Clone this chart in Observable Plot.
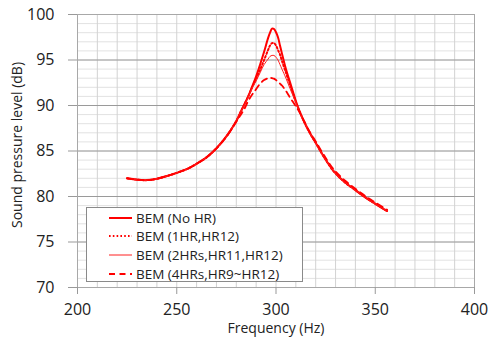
<!DOCTYPE html>
<html>
<head>
<meta charset="utf-8">
<script src="https://cdn.jsdelivr.net/npm/d3@7"></script>
<script src="https://cdn.jsdelivr.net/npm/@observablehq/plot@0.6"></script>
<style>
  html, body { margin: 0; padding: 0; background: #fff; }
  #wrap { position: relative; width: 497px; height: 343px; font-family: "Open Sans", sans-serif; }
  #legend { position: absolute; left: 86px; top: 207px; width: 217px; height: 75px; border: 1px solid #8a8a8a; background: #fff; box-sizing: border-box; }
  .row { position: absolute; left: 0; height: 19px; display: flex; align-items: center; font-size: 13.5px; color: #222; white-space: nowrap; }
  .row svg { margin-left: 22px; margin-right: 4px; }
</style>
</head>
<body>
<div id="wrap"><div id="legend"></div></div>
<script>
// Data
const freq = [225,230,235,240,245,250,255,260,265,270,275,280,282,284,286,288,290,292,294,296,297,298,299,300,301,302,303,305,307,310,312,314,317,320,324,329,335,340,345,350,356];
const noHR = [82.0,81.85,81.8,81.95,82.25,82.6,83.0,83.6,84.3,85.3,86.6,88.3,89.2,90.1,91.0,92.1,93.2,94.5,95.9,97.4,98.0,98.45,98.4,98.05,97.5,96.6,95.7,94.0,92.6,90.5,89.3,88.3,87.0,85.9,84.4,82.8,81.5,80.7,79.9,79.2,78.4];
const oneHR = [82.0,81.85,81.8,81.95,82.25,82.6,83.0,83.6,84.3,85.3,86.6,88.3,89.2,90.1,91.0,92.0,92.9,93.9,95.0,96.1,96.6,96.85,96.85,96.6,96.1,95.6,94.9,93.6,92.3,90.4,89.3,88.3,87.0,85.9,84.4,82.8,81.5,80.7,79.9,79.2,78.4];
const twoHRs = [82.0,81.85,81.8,81.95,82.25,82.6,83.0,83.6,84.3,85.3,86.6,88.3,89.2,90.0,90.9,91.9,92.7,93.6,94.5,95.1,95.4,95.5,95.5,95.3,95.0,94.5,94.0,93.0,91.9,90.3,89.2,88.3,87.0,85.9,84.4,82.8,81.5,80.7,79.9,79.2,78.4];
const fourHRs = [82.0,81.85,81.8,81.95,82.25,82.6,83.0,83.6,84.3,85.3,86.55,88.2,88.9,89.6,90.5,91.2,91.8,92.4,92.8,93.0,93.05,93.0,92.95,92.8,92.6,92.4,92.2,91.6,90.9,89.9,89.2,88.35,87.1,86.05,84.6,83.0,81.7,80.85,80.05,79.35,78.55];
const seriesNames = ["BEM (No HR)", "BEM (1HR,HR12)", "BEM (2HRs,HR11,HR12)", "BEM (4HRs,HR9~HR12)"];
const xTicks = [200, 250, 300, 350, 400];
const yTicks = [70, 75, 80, 85, 90, 95, 100];
const xLabel = "Frequency (Hz)";
const yLabel = "Sound pressure level (dB)";

const styles = [
  {stroke: "#ff0000", strokeWidth: 2},
  {stroke: "#ff0000", strokeWidth: 2, strokeDasharray: "1.6,2.2"},
  {stroke: "#ff2020", strokeWidth: 1},
  {stroke: "#ff0000", strokeWidth: 1.8, strokeDasharray: "6,4.5"}
];
const allValues = [noHR, oneHR, twoHRs, fourHRs];
const tables = allValues.map(vals => freq.map((f, i) => ({f, v: vals[i]})));

const chart = Plot.plot({
  width: 497, height: 343,
  marginLeft: 77, marginRight: 23, marginTop: 14, marginBottom: 56,
  x: {domain: [200, 400]},
  y: {domain: [70, 100]},
  style: {fontFamily: "'Open Sans', sans-serif", fontSize: "16px", color: "#222", background: "transparent"},
  marks: [
    Plot.ruleY(d3.range(70, 101, 1), {stroke: "#e2e2e2", strokeWidth: 1}),
    Plot.ruleX(d3.range(200, 401, 10), {stroke: "#d2d2d2", strokeWidth: 1}),
    Plot.ruleY(yTicks.slice(1, -1), {stroke: "#9a9a9a", strokeWidth: 1}),
    Plot.frame({stroke: "#a8a8a8"}),
    Plot.axisX({ticks: xTicks, tickSize: 7, tickPadding: 9, tickFormat: d => String(d), label: null, stroke: "#999", fill: "#222", fontSize: 16}),
    Plot.axisY({ticks: yTicks, tickSize: 9, tickPadding: 14, tickFormat: d => String(d), label: null, stroke: "#999", fill: "#222", fontSize: 16}),
    Plot.text([xLabel], {frameAnchor: "bottom", textAnchor: "middle", lineAnchor: "middle", dy: 41, fontSize: 14, fill: "#222"}),
    Plot.text([yLabel], {frameAnchor: "left", textAnchor: "middle", lineAnchor: "middle", dx: -60, dy: -6, rotate: -90, fontSize: 14, fill: "#222"}),
    ...tables.map((t, i) => Plot.line(t, {x: "f", y: "v", curve: "catmull-rom", ...styles[i]}))
  ]
});
const wrap = document.getElementById("wrap");
wrap.insertBefore(chart, wrap.firstChild);

const legend = document.getElementById("legend");
seriesNames.forEach((name, i) => {
  const row = document.createElement("div");
  row.className = "row";
  row.style.top = (i * 18.8) + "px";
  const s = styles[i];
  row.innerHTML = `<svg width="23" height="6"><line x1="0" y1="3" x2="23" y2="3" stroke="${s.stroke}" stroke-width="${s.strokeWidth}" ${s.strokeDasharray ? `stroke-dasharray="${s.strokeDasharray}"` : ""}/></svg><span>${name}</span>`;
  legend.appendChild(row);
});
</script>
</body>
</html>
